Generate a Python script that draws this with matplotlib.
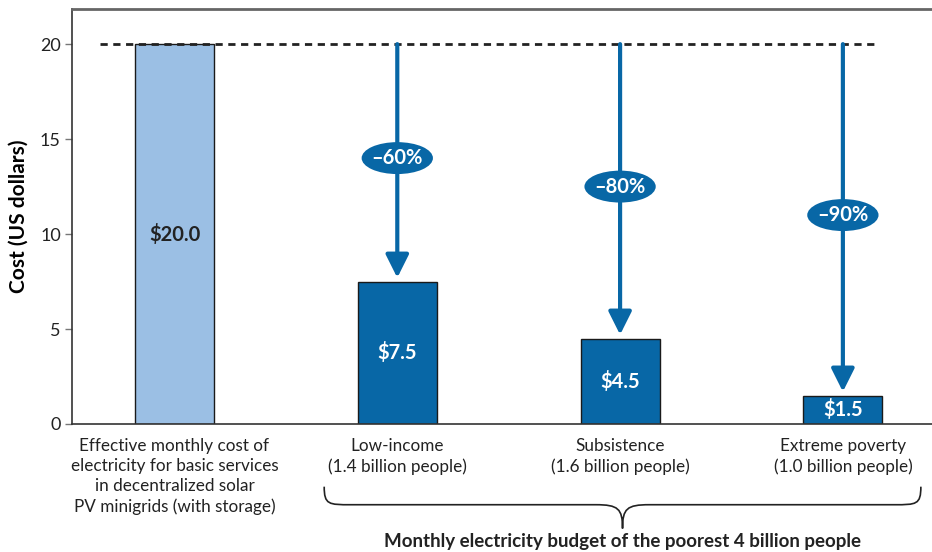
import matplotlib
matplotlib.use("Agg")
import matplotlib.pyplot as plt
from matplotlib.patches import Ellipse, FancyArrowPatch, PathPatch
from matplotlib.path import Path

plt.rcParams["font.family"] = ["Lato", "DejaVu Sans"]

# Monthly cost of basic electricity vs. what the poorest can pay
categories = [
    "Effective monthly cost of\nelectricity for basic services\nin decentralized solar\nPV minigrids (with storage)",
    "Low-income\n(1.4 billion people)",
    "Subsistence\n(1.6 billion people)",
    "Extreme poverty\n(1.0 billion people)",
]
costs = [20.0, 7.5, 4.5, 1.5]
value_labels = ["$20.0", "$7.5", "$4.5", "$1.5"]
cut_labels = ["\u201360%", "\u201380%", "\u201390%"]
cut_badge_y = [14.0, 12.5, 11.0]

DARK_BLUE = "#0867a6"
LIGHT_BLUE = "#9bbfe4"

fig = plt.figure(figsize=(9.32, 5.52), dpi=100)
ax = fig.add_axes([72 / 932, 128 / 552, 1 - 72 / 932, (424 - 9) / 552])

x = list(range(len(costs)))
colors = [LIGHT_BLUE] + [DARK_BLUE] * (len(costs) - 1)
ax.bar(x, costs, width=0.355, color=colors, edgecolor="#1a1a1a", linewidth=1.0, zorder=2)

# reference line at the solar minigrid cost
ax.hlines(costs[0], -0.335, 3.14, colors="#222222", linewidth=2.0,
          linestyles=(0, (2.6, 2.0)), zorder=3)

# bar value labels
for i, (c, lab) in enumerate(zip(costs, value_labels)):
    ax.text(i, c / 2, lab, ha="center", va="center", fontsize=14.5, fontweight="bold",
            color="#222222" if i == 0 else "white", zorder=4)

# arrows from the cost line down to each budget, with a percent badge
for i, (c, lab, by) in enumerate(zip(costs[1:], cut_labels, cut_badge_y), start=1):
    arr = FancyArrowPatch((i, costs[0]), (i, c + 0.2),
                          arrowstyle="-|>,head_length=1.0,head_width=0.5",
                          mutation_scale=14, color=DARK_BLUE, linewidth=3.0,
                          shrinkA=0, shrinkB=0, zorder=5)
    ax.add_patch(arr)
    ax.add_patch(Ellipse((i, by), 0.32, 1.68, facecolor=DARK_BLUE,
                         edgecolor="none", zorder=6))
    ax.text(i, by, lab, ha="center", va="center", fontsize=14.5, fontweight="bold",
            color="white", zorder=7)

ax.set_xlim(-0.46, 3.40)
ax.set_ylim(0, 21.85)
ax.set_yticks([0, 5, 10, 15, 20])
ax.set_xticks([])
ax.tick_params(axis="y", length=5, width=1, color="#777777", labelsize=13,
               labelcolor="#222222", pad=3)
ax.set_ylabel("Cost (US dollars)", fontsize=15, fontweight="bold", labelpad=8)

ax.spines["right"].set_visible(False)
for side in ("left", "bottom"):
    ax.spines[side].set_color("#333333")
    ax.spines[side].set_linewidth(1.2)
ax.spines["top"].set_color("#666666")
ax.spines["top"].set_linewidth(2.0)

# category labels under each bar
for i, lab in enumerate(categories):
    ax.text(i, -0.75, lab, ha="center", va="top", fontsize=12.3, color="#222222",
            linespacing=1.3, clip_on=False)

# curly brace grouping the three budget categories
x0, x1 = 0.672, 3.35
xm = (x0 + x1) / 2
ytop, ymid, ytip = -3.3, -4.25, -5.5
verts = [
    (x0, ytop), (x0, ymid), (x0 + 0.02, ymid), (x0 + 0.12, ymid),
    (xm - 0.12, ymid),
    (xm - 0.02, ymid), (xm, ymid - 0.2), (xm, ytip),
    (xm, ymid - 0.2), (xm + 0.02, ymid), (xm + 0.12, ymid),
    (x1 - 0.12, ymid),
    (x1 - 0.02, ymid), (x1, ymid), (x1, ytop),
]
codes = [Path.MOVETO, Path.CURVE4, Path.CURVE4, Path.CURVE4,
         Path.LINETO,
         Path.CURVE4, Path.CURVE4, Path.CURVE4,
         Path.CURVE4, Path.CURVE4, Path.CURVE4,
         Path.LINETO,
         Path.CURVE4, Path.CURVE4, Path.CURVE4]
ax.add_patch(PathPatch(Path(verts, codes), facecolor="none", edgecolor="#222222",
                       linewidth=1.2, clip_on=False))
ax.text(xm, -6.62, "Monthly electricity budget of the poorest 4 billion people",
        ha="center", va="bottom", fontsize=13.5, fontweight="bold", color="#222222",
        clip_on=False)

fig.savefig("out.png", dpi=100)
